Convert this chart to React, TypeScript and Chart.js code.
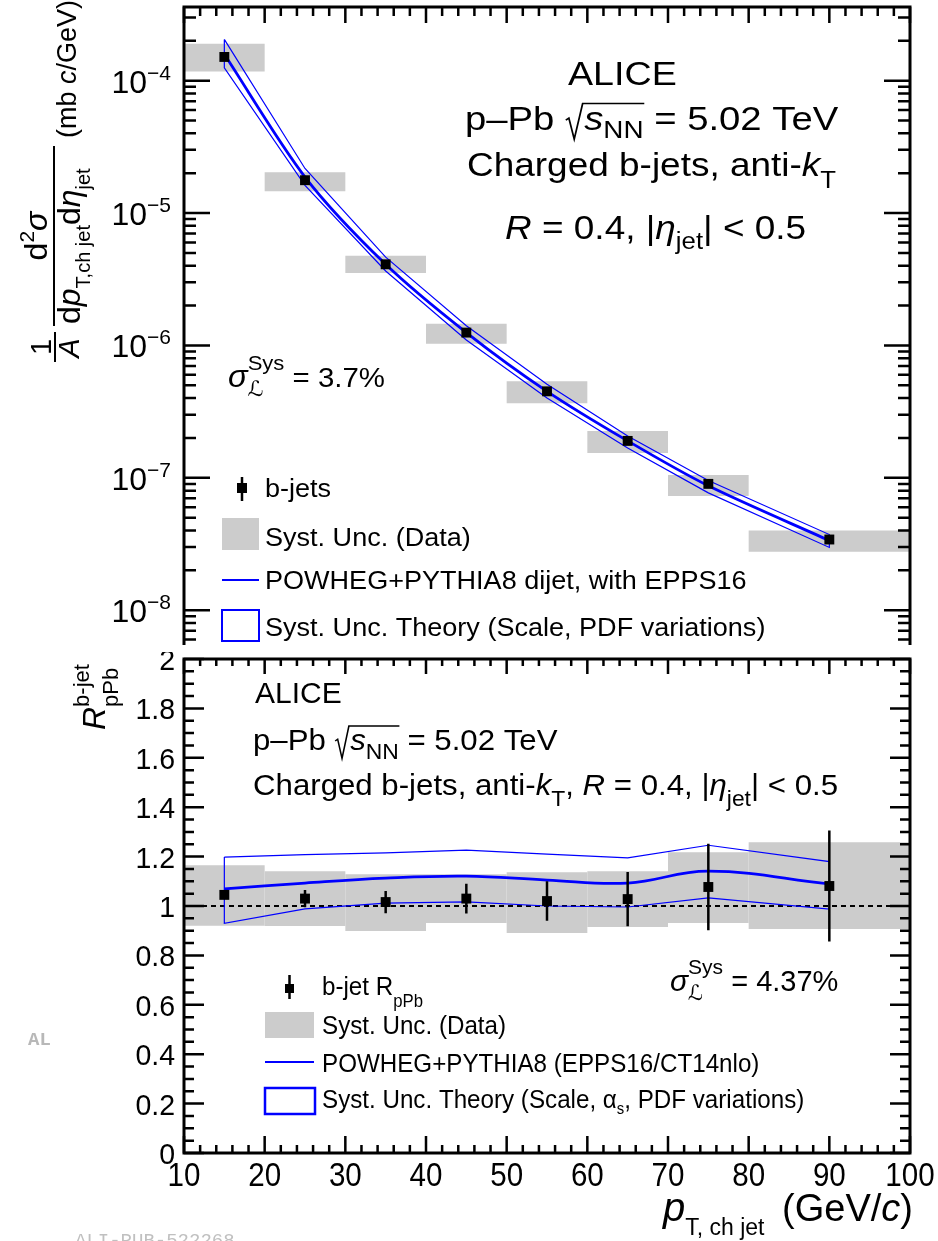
import React, { useEffect, useRef } from 'react';
import { Chart, registerables } from 'chart.js';

Chart.register(...registerables);

const FONT = "'Liberation Sans', Arial, Helvetica, sans-serif";

// ---------------- data ----------------
const BIN_CENTERS = [15, 25, 35, 45, 55, 65, 75, 90];
const BIN_LOW = [10, 20, 30, 40, 50, 60, 70, 80];
const BIN_HIGH = [20, 30, 40, 50, 60, 70, 80, 100];

const XSEC = [1.51e-4, 1.77e-5, 4.1e-6, 1.25e-6, 4.5e-7, 1.9e-7, 9.0e-8, 3.42e-8];
const XSEC_SYS_HIGH = [1.9e-4, 2.03e-5, 4.75e-6, 1.46e-6, 5.36e-7, 2.26e-7, 1.05e-7, 4.0e-8];
const XSEC_SYS_LOW = [1.17e-4, 1.46e-5, 3.52e-6, 1.03e-6, 3.66e-7, 1.54e-7, 7.3e-8, 2.77e-8];
const THEORY_XSEC = [1.58e-4, 1.87e-5, 4.1e-6, 1.25e-6, 4.5e-7, 1.9e-7, 8.7e-8, 3.36e-8];
const THEORY_XSEC_HIGH = [2.05e-4, 2.17e-5, 4.64e-6, 1.41e-6, 5.1e-7, 2.07e-7, 9.55e-8, 3.73e-8];
const THEORY_XSEC_LOW = [1.25e-4, 1.62e-5, 3.65e-6, 1.1e-6, 4.0e-7, 1.68e-7, 7.7e-8, 2.98e-8];

const RPPB = [1.045, 1.03, 1.016, 1.03, 1.02, 1.028, 1.077, 1.081];
const RPPB_STAT = [0.015, 0.035, 0.045, 0.06, 0.08, 0.11, 0.175, 0.225];
const RPPB_SYS_HIGH = [1.165, 1.141, 1.129, 1.129, 1.137, 1.141, 1.218, 1.258];
const RPPB_SYS_LOW = [0.92, 0.919, 0.899, 0.931, 0.891, 0.915, 0.931, 0.907];
const THEORY_R = [1.069, 1.093, 1.113, 1.121, 1.105, 1.093, 1.141, 1.089];
const THEORY_R_HIGH = [1.198, 1.208, 1.215, 1.226, 1.21, 1.195, 1.246, 1.18];
const THEORY_R_LOW = [0.93, 0.988, 1.012, 1.017, 1.0, 0.996, 1.033, 0.987];

const X_TICKS = [10, 20, 30, 40, 50, 60, 70, 80, 90, 100];
const X_TICK_LABELS = ['10', '20', '30', '40', '50', '60', '70', '80', '90', '100'];
const R_TICKS = [0, 0.2, 0.4, 0.6, 0.8, 1, 1.2, 1.4, 1.6, 1.8, 2];
const R_TICK_LABELS = ['0', '0.2', '0.4', '0.6', '0.8', '1', '1.2', '1.4', '1.6', '1.8', '2'];
const LOG_TICK_EXPONENTS = [-8, -7, -6, -5, -4];
const LOG_TICK_LABELS = ['\u22128', '\u22127', '\u22126', '\u22125', '\u22124'];

const X_MIN = 10;
const X_MAX = 100;
const TOP_Y_MIN = 5.46e-9;
const TOP_Y_MAX = 3.6e-4;
const R_MIN = 0;
const R_MAX = 2;

const BLUE = '#0000ff';
const GRAY = '#cccccc';

const BOTTOM_OFFSET = 652;

// ---------------- helpers ----------------
type Pt = { x: number; y: number | null };

function boxPolygons(lo: number[], hi: number[], yl: number[], yh: number[]): Pt[] {
  const pts: Pt[] = [];
  for (let i = 0; i < lo.length; i++) {
    pts.push({ x: lo[i], y: yl[i] }, { x: lo[i], y: yh[i] }, { x: hi[i], y: yh[i] }, { x: hi[i], y: yl[i] }, { x: lo[i], y: yl[i] }, { x: lo[i], y: null });
  }
  return pts;
}

function bandOutline(xs: number[], up: number[], lo: number[]): Pt[] {
  const pts: Pt[] = xs.map((x, i) => ({ x, y: up[i] }));
  for (let i = xs.length - 1; i >= 0; i--) pts.push({ x: xs[i], y: lo[i] });
  pts.push({ x: xs[0], y: up[0] });
  return pts;
}

function errorSegments(xs: number[], ys: number[], es: number[]): Pt[] {
  const pts: Pt[] = [];
  xs.forEach((x, i) => {
    pts.push({ x, y: ys[i] - es[i] }, { x, y: ys[i] + es[i] }, { x, y: null });
  });
  return pts;
}

type Part = { t?: string; size: number; it?: boolean; bold?: boolean; dy?: number; fam?: string; stack?: boolean; rad?: boolean; under?: boolean };

function fontOf(p: Part) {
  return `${p.it ? 'italic ' : ''}${p.bold ? 'bold ' : ''}${p.size}px ${p.fam || FONT}`;
}

function drawRich(ctx: CanvasRenderingContext2D, parts: Part[], x: number, y: number, align: 'left' | 'center' | 'right' = 'left', sx = 1, color = '#000') {
  const items: { p: Part; x: number; w: number }[] = [];
  let cur = 0;
  let lastStart = 0;
  for (const p of parts) {
    let w = 0;
    if (p.rad) w = p.size * 0.5;
    else {
      ctx.font = fontOf(p);
      w = ctx.measureText(p.t || '').width;
    }
    const x0 = p.stack ? lastStart : cur;
    items.push({ p, x: x0, w });
    if (!p.stack) lastStart = x0;
    cur = p.stack ? Math.max(cur, x0 + w) : x0 + w;
  }
  const total = cur * sx;
  const start = align === 'left' ? x : align === 'center' ? x - total / 2 : x - total;
  ctx.save();
  ctx.translate(start, y);
  ctx.scale(sx, 1);
  ctx.fillStyle = color;
  ctx.strokeStyle = color;
  ctx.textAlign = 'left';
  ctx.textBaseline = 'alphabetic';
  let radStart: number | null = null;
  let radSize = 0;
  let radEnd = 0;
  for (const it of items) {
    if (it.p.rad) {
      radStart = it.x;
      radSize = it.p.size;
      continue;
    }
    ctx.font = fontOf(it.p);
    ctx.fillText(it.p.t || '', it.x, it.p.dy || 0);
    if (it.p.under) radEnd = it.x + it.w;
  }
  if (radStart !== null) {
    const s = radSize;
    const topY = -0.8 * s;
    ctx.lineWidth = 1.5;
    ctx.beginPath();
    ctx.moveTo(radStart + 0.02 * s, -0.3 * s);
    ctx.lineTo(radStart + 0.1 * s, -0.36 * s);
    ctx.lineTo(radStart + 0.24 * s, 0.28 * s);
    ctx.lineTo(radStart + 0.46 * s, topY);
    ctx.lineTo(radEnd + 0.02 * s, topY);
    ctx.stroke();
  }
  ctx.restore();
  return total;
}

function drawRotated(ctx: CanvasRenderingContext2D, parts: Part[], x: number, y: number, align: 'left' | 'center' | 'right' = 'left', sx = 1) {
  ctx.save();
  ctx.translate(x, y);
  ctx.rotate(-Math.PI / 2);
  drawRich(ctx, parts, 0, 0, align, sx);
  ctx.restore();
}

function line(ctx: CanvasRenderingContext2D, x1: number, y1: number, x2: number, y2: number) {
  ctx.moveTo(x1, y1);
  ctx.lineTo(x2, y2);
}

// ---------------- top panel overlay ----------------
const topOverlay = {
  id: 'topOverlay',
  afterDraw(chart: any) {
    const ctx: CanvasRenderingContext2D = chart.ctx;
    const { left, right, top, bottom } = chart.chartArea;
    const xs = chart.scales.x;
    const ys = chart.scales.y;
    ctx.save();
    ctx.strokeStyle = '#000';
    ctx.lineWidth = 2.5;
    ctx.beginPath();
    for (let v = X_MIN; v <= X_MAX; v += 2) {
      const px = xs.getPixelForValue(v);
      const len = v % 10 === 0 ? 16 : 9;
      line(ctx, px, top, px, top + len);
    }
    for (let e = -9; e <= -3; e++) {
      for (let m = 1; m <= 9; m++) {
        const v = m * Math.pow(10, e);
        if (v < TOP_Y_MIN || v > TOP_Y_MAX) continue;
        const py = ys.getPixelForValue(v);
        const len = m === 1 ? 26 : 12;
        line(ctx, left, py, left + len, py);
        line(ctx, right, py, right - len, py);
      }
    }
    ctx.stroke();
    ctx.lineWidth = 3;
    ctx.beginPath();
    ctx.moveTo(left, bottom);
    ctx.lineTo(left, top);
    ctx.lineTo(right, top);
    ctx.lineTo(right, bottom);
    ctx.stroke();

    // y tick labels
    LOG_TICK_EXPONENTS.forEach((e, i) => {
      const py = ys.getPixelForValue(Math.pow(10, e));
      drawRich(ctx, [{ t: '10', size: 32 }, { t: LOG_TICK_LABELS[i], size: 21, dy: -13 }], 171, py + 12, 'right');
    });

    // y title (rotated)
    drawRotated(ctx, [{ t: '1', size: 29 }], 51, 347, 'center');
    ctx.lineWidth = 2;
    ctx.beginPath();
    line(ctx, 55, 332, 55, 362);
    ctx.stroke();
    drawRotated(ctx, [{ t: 'A', size: 29, it: true }], 79, 348, 'center');
    drawRotated(ctx, [{ t: 'd', size: 32 }, { t: '2', size: 21, dy: -13 }, { t: '\u03c3', size: 32, it: true }], 47, 236, 'center');
    ctx.beginPath();
    line(ctx, 54, 146, 54, 326);
    ctx.stroke();
    drawRotated(ctx, [
      { t: 'd', size: 32 }, { t: 'p', size: 32, it: true }, { t: 'T,ch jet', size: 20, dy: 10 },
      { t: 'd', size: 32 }, { t: '\u03b7', size: 32, it: true }, { t: 'jet', size: 20, dy: 10 },
    ], 80, 324, 'left');
    drawRotated(ctx, [{ t: '(mb ', size: 27 }, { t: 'c', size: 27, it: true }, { t: '/GeV)', size: 27 }], 76, 138, 'left');

    // annotation
    const F = 33;
    const SX = 1.12;
    drawRich(ctx, [{ t: 'ALICE', size: F }], 568, 85, 'left', 1.14);
    drawRich(ctx, [
      { t: 'p\u2013Pb ', size: F }, { rad: true, size: F }, { t: 's', size: F, it: true, under: true },
      { t: 'NN', size: 24, dy: 8, under: true }, { t: ' = 5.02 TeV', size: F },
    ], 465, 130, 'left', 1.16);
    drawRich(ctx, [{ t: 'Charged b-jets, anti-', size: F }, { t: 'k', size: F, it: true }, { t: 'T', size: 23, dy: 12 }], 467, 176, 'left', SX);
    drawRich(ctx, [
      { t: 'R', size: F, it: true }, { t: ' = 0.4, |', size: F }, { t: '\u03b7', size: F, it: true },
      { t: 'jet', size: 23, dy: 10 }, { t: '| < 0.5', size: F },
    ], 505, 239, 'left', SX);

    drawRich(ctx, [
      { t: '\u03c3', size: 31, it: true }, { t: 'Sys', size: 21, dy: -17 }, { t: '\u2112', size: 21, dy: 9, stack: true, fam: "'DejaVu Sans'" },
      { t: ' = 3.7%', size: 28 },
    ], 228, 387, 'left', 1.05);

    // legend
    ctx.fillStyle = '#000';
    ctx.fillRect(237, 483, 10, 10);
    ctx.lineWidth = 2.5;
    ctx.beginPath();
    line(ctx, 242, 477, 242, 501);
    ctx.stroke();
    ctx.fillStyle = GRAY;
    ctx.fillRect(222, 518, 37, 32);
    ctx.strokeStyle = BLUE;
    ctx.lineWidth = 2;
    ctx.beginPath();
    line(ctx, 222, 580, 259, 580);
    ctx.stroke();
    ctx.strokeRect(222, 610, 37, 31);
    const LF = 26;
    const LSX = 1.04;
    drawRich(ctx, [{ t: 'b-jets', size: LF }], 265, 497, 'left', LSX);
    drawRich(ctx, [{ t: 'Syst. Unc. (Data)', size: LF }], 265, 546, 'left', LSX);
    drawRich(ctx, [{ t: 'POWHEG+PYTHIA8 dijet, with EPPS16', size: LF }], 265, 589, 'left', LSX);
    drawRich(ctx, [{ t: 'Syst. Unc. Theory (Scale, PDF variations)', size: LF }], 265, 636, 'left', LSX);
    ctx.restore();
  },
};

// ---------------- bottom panel overlay ----------------
const bottomOverlay = {
  id: 'bottomOverlay',
  afterDraw(chart: any) {
    const ctx: CanvasRenderingContext2D = chart.ctx;
    const { left, right, top, bottom } = chart.chartArea;
    const xs = chart.scales.x;
    const ys = chart.scales.y;
    ctx.save();
    ctx.strokeStyle = '#000';
    ctx.lineWidth = 2.5;
    ctx.beginPath();
    for (let v = X_MIN; v <= X_MAX; v += 2) {
      const px = xs.getPixelForValue(v);
      const major = v % 10 === 0;
      line(ctx, px, bottom, px, bottom - (major ? 17 : 8));
      line(ctx, px, top, px, top + (major ? 15 : 7));
    }
    for (let k = 0; k <= 40; k++) {
      const v = k * 0.05;
      const py = ys.getPixelForValue(v);
      const len = k % 4 === 0 ? 20 : 10;
      line(ctx, left, py, left + len, py);
      line(ctx, right, py, right - len, py);
    }
    ctx.stroke();
    ctx.lineWidth = 3;
    ctx.strokeRect(left, top, right - left, bottom - top);

    // tick labels
    X_TICKS.forEach((v, i) => {
      drawRich(ctx, [{ t: X_TICK_LABELS[i], size: 34 }], xs.getPixelForValue(v), bottom + 33, 'center', 0.87);
    });
    R_TICKS.forEach((v, i) => {
      drawRich(ctx, [{ t: R_TICK_LABELS[i], size: 30 }], 175, ys.getPixelForValue(v) + 11, 'right', 0.95);
    });

    ctx.translate(0, -BOTTOM_OFFSET);

    // axis titles
    drawRich(ctx, [{ t: 'p', size: 40, it: true }, { t: 'T, ch jet', size: 23, dy: 14 }], 663, 1221, 'left', 1);
    drawRich(ctx, [{ t: '(GeV/', size: 38 }, { t: 'c', size: 38, it: true }, { t: ')', size: 38 }], 913, 1221, 'right', 1);
    drawRotated(ctx, [{ t: 'R', size: 32, it: true }, { t: 'b-jet', size: 22, dy: -16 }, { t: 'pPb', size: 22, dy: 13, stack: true }], 105, 730, 'left');

    // annotation
    const F = 30;
    drawRich(ctx, [{ t: 'ALICE', size: F }], 255, 703, 'left');
    drawRich(ctx, [
      { t: 'p\u2013Pb ', size: F }, { rad: true, size: F }, { t: 's', size: F, it: true, under: true },
      { t: 'NN', size: 22, dy: 9, under: true }, { t: ' = 5.02 TeV', size: F },
    ], 253, 750, 'left', 1.04);
    drawRich(ctx, [
      { t: 'Charged b-jets, anti-', size: F }, { t: 'k', size: F, it: true }, { t: 'T', size: 22, dy: 11 },
      { t: ', ', size: F }, { t: 'R', size: F, it: true }, { t: ' = 0.4, |', size: F }, { t: '\u03b7', size: F, it: true },
      { t: 'jet', size: 22, dy: 11 }, { t: '| < 0.5', size: F },
    ], 253, 795, 'left', 1.04);
    drawRich(ctx, [
      { t: '\u03c3', size: 30, it: true }, { t: 'Sys', size: 21, dy: -17 }, { t: '\u2112', size: 21, dy: 9, stack: true, fam: "'DejaVu Sans'" },
      { t: ' = 4.37%', size: 29 },
    ], 670, 991, 'left');

    // legend
    ctx.fillStyle = '#000';
    ctx.fillRect(285, 984, 9, 9);
    ctx.strokeStyle = '#000';
    ctx.lineWidth = 2.5;
    ctx.beginPath();
    line(ctx, 289.5, 975, 289.5, 999);
    ctx.stroke();
    ctx.fillStyle = GRAY;
    ctx.fillRect(265, 1012, 49, 26);
    ctx.strokeStyle = BLUE;
    ctx.lineWidth = 2;
    ctx.beginPath();
    line(ctx, 265, 1062, 314, 1062);
    ctx.stroke();
    ctx.lineWidth = 2.5;
    ctx.strokeRect(265, 1088, 50, 26);
    const LF = 26;
    const LSX = 0.93;
    drawRich(ctx, [{ t: 'b-jet R', size: LF }, { t: 'pPb', size: 18, dy: 12 }], 322, 995, 'left', LSX);
    drawRich(ctx, [{ t: 'Syst. Unc. (Data)', size: LF }], 322, 1034, 'left', LSX);
    drawRich(ctx, [{ t: 'POWHEG+PYTHIA8 (EPPS16/CT14nlo)', size: LF }], 322, 1072, 'left', LSX);
    drawRich(ctx, [
      { t: 'Syst. Unc. Theory (Scale, ', size: LF }, { t: '\u03b1', size: LF }, { t: 's', size: 16, dy: 6 },
      { t: ', PDF variations)', size: LF },
    ], 322, 1108, 'left', LSX);

    // watermarks
    drawRich(ctx, [{ t: 'AL', size: 19, bold: true, fam: "'Liberation Mono', monospace" }], 28, 1045, 'left', 1, '#b8b8b8');
    drawRich(ctx, [{ t: 'ALI-PUB-522268', size: 19, fam: "'Liberation Mono', monospace" }], 75, 1246, 'left', 1, '#c0c0c0');
    ctx.restore();
  },
};

function baseOptions(yScale: any, padding: any) {
  return {
    animation: false as const,
    responsive: false,
    events: [] as any[],
    layout: { padding },
    scales: {
      x: { type: 'linear' as const, min: X_MIN, max: X_MAX, display: false },
      y: yScale,
    },
    plugins: { legend: { display: false }, tooltip: { enabled: false } },
    elements: { point: { radius: 0 } },
  };
}

export default function App() {
  const topRef = useRef<HTMLCanvasElement>(null);
  const botRef = useRef<HTMLCanvasElement>(null);

  useEffect(() => {
    const topChart = new Chart(topRef.current as HTMLCanvasElement, {
      type: 'line',
      data: {
        datasets: [
          {
            data: BIN_CENTERS.map((x, i) => ({ x, y: XSEC[i] })),
            showLine: false, pointStyle: 'rect', pointRadius: 7, pointBackgroundColor: '#000', pointBorderWidth: 0,
          } as any,
          {
            data: BIN_CENTERS.map((x, i) => ({ x, y: THEORY_XSEC[i] })),
            borderColor: BLUE, borderWidth: 2.8, tension: 0.3, pointRadius: 0, fill: false,
          },
          {
            data: bandOutline(BIN_CENTERS, THEORY_XSEC_HIGH, THEORY_XSEC_LOW),
            borderColor: BLUE, borderWidth: 1.2, tension: 0, pointRadius: 0, fill: false,
          },
          {
            data: boxPolygons(BIN_LOW, BIN_HIGH, XSEC_SYS_LOW, XSEC_SYS_HIGH),
            borderWidth: 0, borderColor: 'rgba(0,0,0,0)', backgroundColor: GRAY, fill: 'shape', pointRadius: 0, tension: 0, spanGaps: false,
          },
        ],
      },
      options: baseOptions(
        { type: 'logarithmic', min: TOP_Y_MIN, max: TOP_Y_MAX, display: false, bounds: 'data' },
        { left: 184, right: 28, top: 7, bottom: 4 },
      ) as any,
      plugins: [topOverlay],
    });

    const botChart = new Chart(botRef.current as HTMLCanvasElement, {
      type: 'line',
      data: {
        datasets: [
          {
            data: BIN_CENTERS.map((x, i) => ({ x, y: RPPB[i] })),
            showLine: false, pointStyle: 'rect', pointRadius: 7, pointBackgroundColor: '#000', pointBorderWidth: 0,
          } as any,
          {
            data: errorSegments(BIN_CENTERS, RPPB, RPPB_STAT),
            borderColor: '#000', borderWidth: 2.5, pointRadius: 0, tension: 0, spanGaps: false, fill: false,
          },
          {
            data: BIN_CENTERS.map((x, i) => ({ x, y: THEORY_R[i] })),
            borderColor: BLUE, borderWidth: 2.7, tension: 0.4, pointRadius: 0, fill: false,
          },
          {
            data: bandOutline(BIN_CENTERS, THEORY_R_HIGH, THEORY_R_LOW),
            borderColor: BLUE, borderWidth: 1.2, tension: 0, pointRadius: 0, fill: false,
          },
          {
            data: [{ x: X_MIN, y: 1 }, { x: X_MAX, y: 1 }],
            borderColor: '#000', borderWidth: 2, borderDash: [5, 4], pointRadius: 0, fill: false,
          },
          {
            data: boxPolygons(BIN_LOW, BIN_HIGH, RPPB_SYS_LOW, RPPB_SYS_HIGH),
            borderWidth: 0, borderColor: 'rgba(0,0,0,0)', backgroundColor: GRAY, fill: 'shape', pointRadius: 0, tension: 0, spanGaps: false,
          },
        ],
      },
      options: baseOptions(
        { type: 'linear', min: R_MIN, max: R_MAX, display: false },
        { left: 184, right: 28, top: 5, bottom: 88 },
      ) as any,
      plugins: [bottomOverlay],
    });

    return () => {
      topChart.destroy();
      botChart.destroy();
    };
  }, []);

  return (
    <div style={{ position: 'absolute', left: 0, top: 0, width: 938, height: 1241, background: '#fff', overflow: 'hidden' }}>
      <canvas ref={topRef} width={938} height={652} style={{ position: 'absolute', left: 0, top: 0, width: 938, height: 652 }} />
      <canvas ref={botRef} width={938} height={589} style={{ position: 'absolute', left: 0, top: BOTTOM_OFFSET, width: 938, height: 589 }} />
    </div>
  );
}
